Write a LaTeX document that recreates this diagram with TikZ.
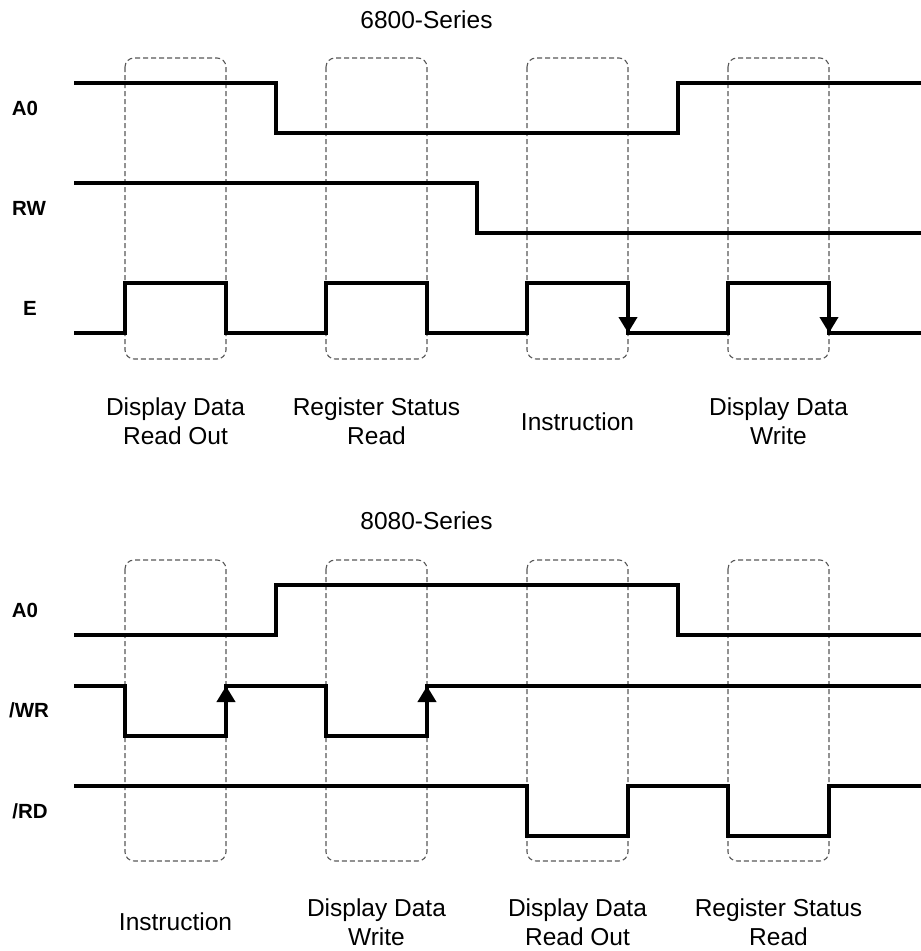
\documentclass[tikz,border=0pt]{standalone}
\usepackage{fontspec}
\setmainfont{Liberation Sans}
\usetikzlibrary{arrows.meta}
\begin{document}
\begin{tikzpicture}[x=1pt,y=-1pt,
  sig/.style={line width=4.2pt,line join=miter,black},
  win/.style={draw=black!65,line width=1.1pt,dash pattern=on 5pt off 3pt,rounded corners=9pt},
  edgearrow/.style={line width=4.2pt,-{Triangle[width=18pt,length=16pt]}},
  sername/.style={font=\fontsize{24.5}{29}\selectfont,anchor=base,inner sep=0pt},
  siglabel/.style={font=\fontsize{20.5}{24}\selectfont\bfseries,anchor=base,inner sep=0pt},
  oplabel/.style={font=\fontsize{24.5}{29}\selectfont,anchor=base,inner sep=0pt}]
\useasboundingbox (0,0) rectangle (921,951);
\fill[white] (0,0) rectangle (921,951);

% ---------- 6800-Series ----------
\node[sername] (t6800) at (426.5,28) {6800-Series};
\foreach \x in {125,326,527,728} {
  \draw[win] (\x,58) rectangle (\x+101,359);
}
\node[siglabel] (lA0a) at (25,115) {A0};
\node[siglabel] (lRW) at (29,215) {RW};
\node[siglabel] (lE) at (30,315) {E};

\draw[sig] (74,83) -- (276,83) -- (276,133) -- (678,133) -- (678,83) -- (921,83);
\draw[sig] (74,183) -- (477,183) -- (477,233) -- (921,233);
\draw[sig] (74,333) -- (125,333) -- (125,283) -- (226,283) -- (226,333) -- (326,333)
  -- (326,283) -- (427,283) -- (427,333) -- (527,333) -- (527,283) -- (628,283)
  -- (628,333) -- (728,333) -- (728,283) -- (829,283) -- (829,333) -- (921,333);
\coordinate (e3s) at (628,290); \coordinate (e3e) at (628,333);
\coordinate (e4s) at (829,290); \coordinate (e4e) at (829,333);
\draw[edgearrow] (e3s) -- (e3e);
\draw[edgearrow] (e4s) -- (e4e);

\node[oplabel] (a1) at (175.5,415) {Display Data};
\node[oplabel] (a1b) at (175.5,444) {Read Out};
\node[oplabel] (a2) at (376.5,415) {Register Status};
\node[oplabel] (a2b) at (376.5,444) {Read};
\node[oplabel] (a3) at (577.5,430) {Instruction};
\node[oplabel] (a4) at (778.5,415) {Display Data};
\node[oplabel] (a4b) at (778.5,444) {Write};

% ---------- 8080-Series ----------
\node[sername] (t8080) at (426.5,529) {8080-Series};
\foreach \x in {125,326,527,728} {
  \draw[win] (\x,560) rectangle (\x+101,861);
}
\node[siglabel] (lA0b) at (25,617) {A0};
\node[siglabel] (lWR) at (29,717) {/WR};
\node[siglabel] (lRD) at (30,818) {/RD};

\draw[sig] (74,635) -- (276,635) -- (276,585) -- (678,585) -- (678,635) -- (921,635);
\draw[sig] (74,686) -- (125,686) -- (125,736) -- (226,736) -- (226,686) -- (326,686)
  -- (326,736) -- (427,736) -- (427,686) -- (921,686);
\draw[sig] (74,786) -- (527,786) -- (527,836) -- (628,836) -- (628,786) -- (728,786)
  -- (728,836) -- (829,836) -- (829,786) -- (921,786);
\coordinate (w1s) at (226,729); \coordinate (w1e) at (226,686);
\coordinate (w2s) at (427,729); \coordinate (w2e) at (427,686);
\draw[edgearrow] (w1s) -- (w1e);
\draw[edgearrow] (w2s) -- (w2e);

\node[oplabel] (b1) at (175.5,930) {Instruction};
\node[oplabel] (b2) at (376.5,916) {Display Data};
\node[oplabel] (b2b) at (376.5,945) {Write};
\node[oplabel] (b3) at (577.5,916) {Display Data};
\node[oplabel] (b3b) at (577.5,945) {Read Out};
\node[oplabel] (b4) at (778.5,916) {Register Status};
\node[oplabel] (b4b) at (778.5,945) {Read};
\end{tikzpicture}
\end{document}
